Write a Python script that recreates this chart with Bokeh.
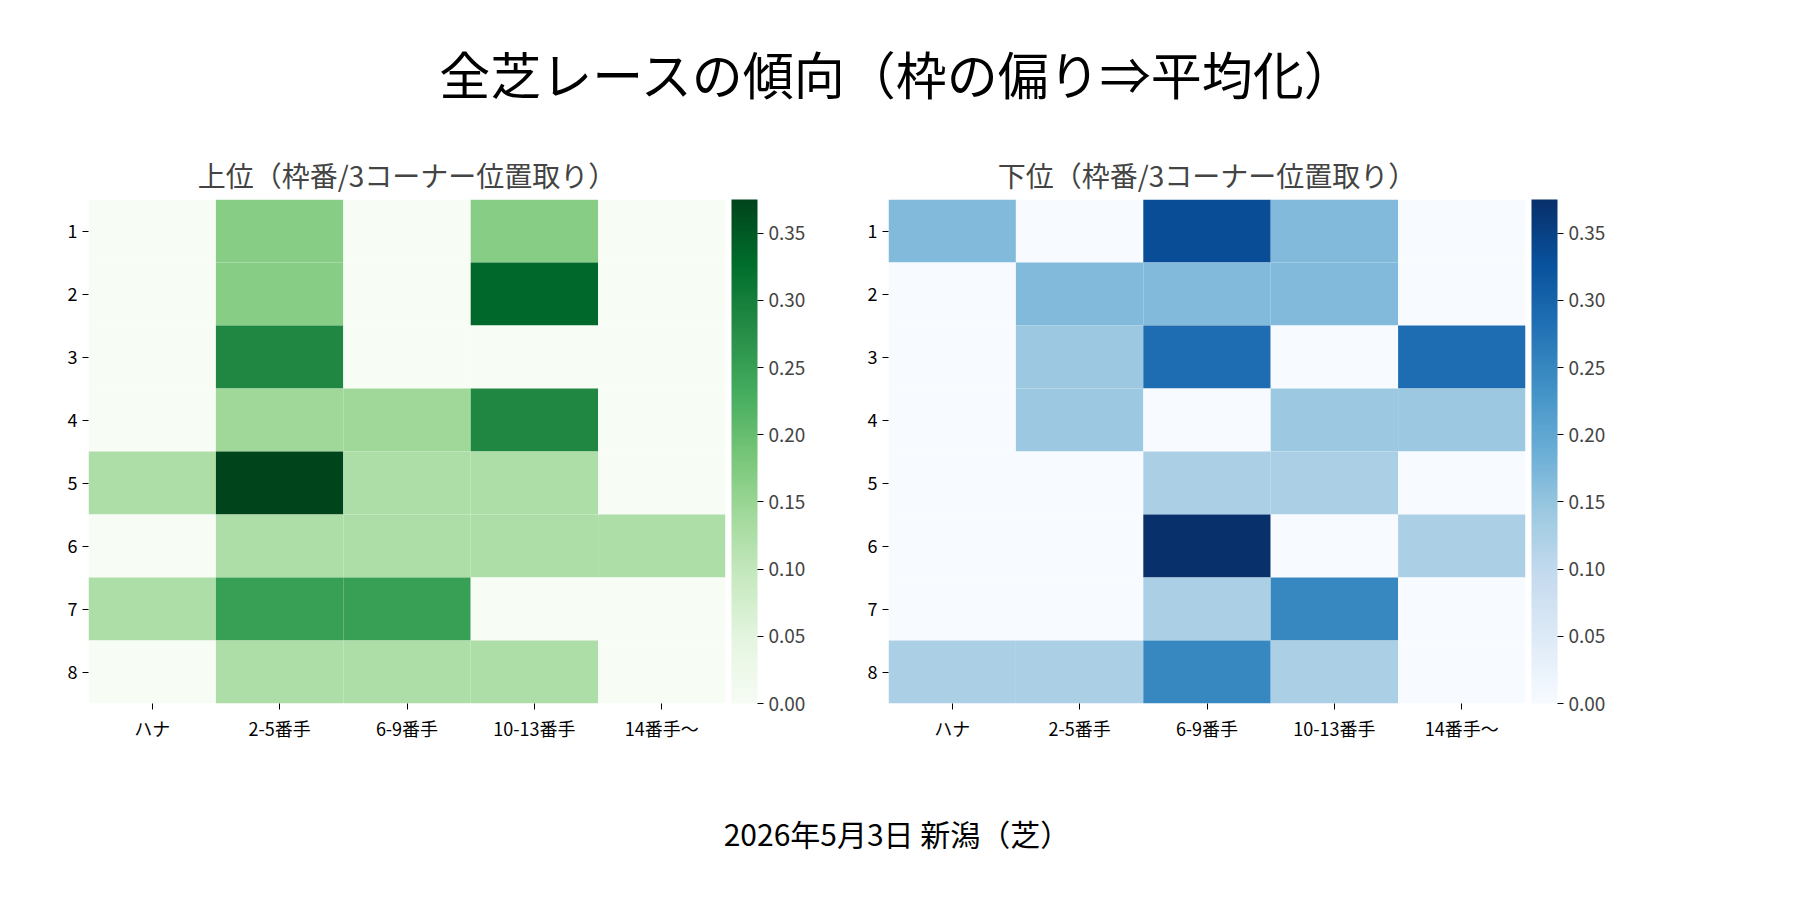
from bokeh.plotting import figure
from bokeh.models import ColumnDataSource, ColorBar, LinearColorMapper, FixedTicker, PrintfTickFormatter, Div, CategoricalAxis
from bokeh.layouts import column, row
from bokeh.palettes import Greens256, Blues256
from bokeh.embed import file_html
from bokeh.resources import INLINE

cols = ["ハナ", "2-5番手", "6-9番手", "10-13番手", "14番手〜"]
rows = ["1", "2", "3", "4", "5", "6", "7", "8"]
upper = [
    [0, 0.167, 0, 0.167, 0],
    [0, 0.167, 0, 0.333, 0],
    [0, 0.286, 0, 0, 0],
    [0, 0.143, 0.143, 0.286, 0],
    [0.125, 0.375, 0.125, 0.125, 0],
    [0, 0.125, 0.125, 0.125, 0.125],
    [0.125, 0.25, 0.25, 0, 0],
    [0, 0.125, 0.125, 0.125, 0],
]
lower = [
    [0.167, 0, 0.333, 0.167, 0],
    [0, 0.167, 0.167, 0.167, 0],
    [0, 0.143, 0.286, 0, 0.286],
    [0, 0.143, 0, 0.143, 0.143],
    [0, 0, 0.125, 0.125, 0],
    [0, 0, 0.375, 0, 0.125],
    [0, 0, 0.125, 0.25, 0],
    [0.125, 0.125, 0.25, 0.125, 0],
]
VMAX = 0.375
FONT = "Noto Sans CJK JP"

def panel(title, data, palette, left_border, right_border):
    xs, ys, vs = [], [], []
    for i, r in enumerate(rows):
        for j, c in enumerate(cols):
            xs.append(c); ys.append(r); vs.append(data[i][j])
    src = ColumnDataSource(dict(x=xs, y=ys, v=vs))
    mapper = LinearColorMapper(palette=list(reversed(palette)), low=0, high=VMAX)
    p = figure(x_range=cols, y_range=list(reversed(rows)), frame_width=637, frame_height=504,
               output_backend="svg", toolbar_location=None, title=title,
               min_border_left=left_border, min_border_top=20, min_border_bottom=100,
               min_border_right=right_border)
    p.rect("x", "y", 1, 1, source=src, fill_color={"field": "v", "transform": mapper}, line_color=None)
    p.title.text_font = FONT
    p.title.text_font_size = "28px"
    p.title.text_font_style = "normal"
    p.title.align = "center"
    p.grid.visible = False
    p.outline_line_color = None
    for ax in (p.xaxis, p.yaxis):
        ax.axis_line_color = None
        ax.major_tick_out = 6
        ax.major_tick_in = 0
        ax.minor_tick_line_color = None
        ax.major_label_text_font = FONT
        ax.major_label_text_font_size = "18px"
        ax.major_label_text_color = "black"
    # invisible spacer axis to separate the colour bar from the heatmap
    spacer = CategoricalAxis(axis_line_color=None, major_tick_line_color=None,
                             major_label_text_alpha=0, major_label_standoff=26,
                             major_label_text_font_size="14px")
    p.add_layout(spacer, "right")
    cb = ColorBar(color_mapper=mapper, width=26, padding=0,
                  ticker=FixedTicker(ticks=[0, 0.05, 0.1, 0.15, 0.2, 0.25, 0.3, 0.35]),
                  formatter=PrintfTickFormatter(format="%.2f"),
                  major_label_text_font=FONT, major_label_text_font_size="19px",
                  major_tick_out=6, major_tick_in=0, major_tick_line_color="black",
                  bar_line_color=None, border_line_color=None)
    p.add_layout(cb, "right")
    return p

p1 = panel("上位（枠番/3コーナー位置取り）", upper, Greens256, 88, 80)
p2 = panel("下位（枠番/3コーナー位置取り）", lower, Blues256, 80, 40)

title = Div(text="全芝レースの傾向（枠の偏り⇒平均化）", width=1784, height=137,
            styles={"font-family": FONT, "font-size": "51px", "text-align": "center",
                    "width": "1784px", "padding-top": "32px", "color": "black"})
footer = Div(text="2026年5月3日 新潟（芝）", width=1784, height=50,
             styles={"font-family": FONT, "font-size": "30px", "text-align": "center",
                     "width": "1784px", "color": "black", "padding-top": "4px"})
layout = column(title, row(p1, p2), footer)
open("out.html", "w").write(file_html(layout, INLINE))
